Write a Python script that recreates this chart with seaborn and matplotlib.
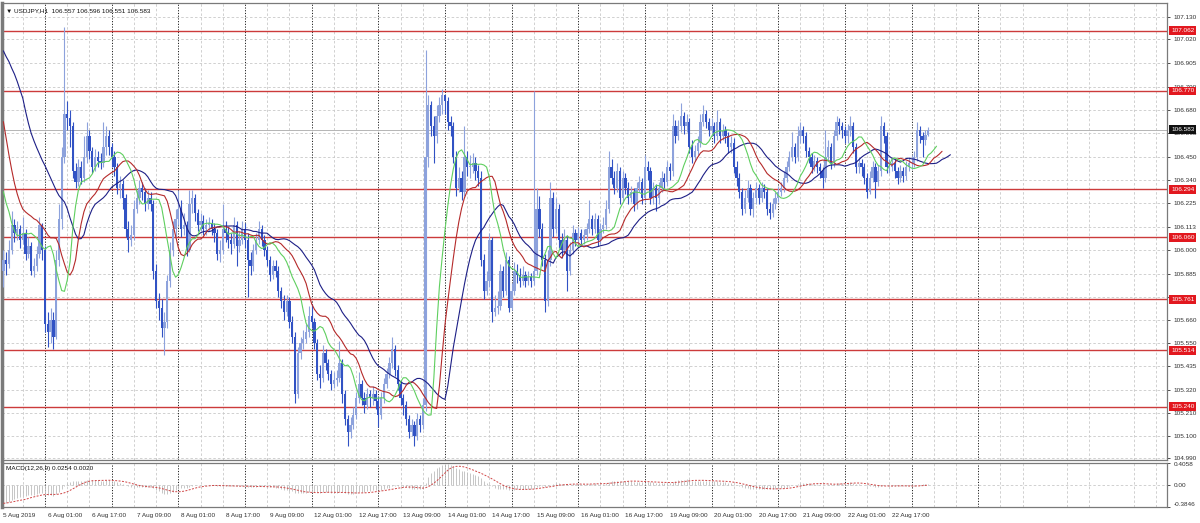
import numpy as np
import pandas as pd
import matplotlib
matplotlib.use("Agg")
import matplotlib.pyplot as plt
import matplotlib.transforms as mtransforms
import seaborn as sns

# ---------------- data ----------------
symbol_title = "\u25bc USDJPY,H1  106.557 106.596 106.551 106.583"
macd_title = "MACD(12,26,9) 0.0254 0.0020"
open_first = 105.90

close = [
    # 5 Aug (from 09:00)
    105.95, 105.93, 106.00, 106.12, 106.08, 106.10, 106.05, 106.08, 105.98, 106.02, 105.90, 105.92, 105.98, 106.12, 106.00,
    # 6 Aug
    105.64, 105.60, 105.66, 105.58, 105.95, 106.15, 106.45, 106.66, 106.64, 106.60, 106.38, 106.33, 106.40, 106.35, 106.45, 106.55, 106.48, 106.40, 106.45, 106.43, 106.42, 106.50, 106.55, 106.50,
    # 7 Aug
    106.45, 106.40, 106.30, 106.32, 106.25, 106.10, 106.05, 106.07, 106.20, 106.25, 106.30, 106.28, 106.22, 106.25, 106.22, 105.90, 105.75, 105.72, 105.62, 105.65, 105.85, 106.00, 106.10, 106.15,
    # 8 Aug
    106.20, 106.10, 106.12, 106.00, 106.22, 106.25, 106.18, 106.12, 106.14, 106.10, 106.12, 106.13, 106.10, 106.08, 105.98, 106.00, 106.10, 106.08, 106.05, 106.03, 106.12, 106.02, 106.05, 106.10,
    # 9 Aug
    106.05, 105.95, 105.92, 106.00, 106.05, 106.10, 106.05, 106.00, 105.95, 105.88, 105.92, 105.90, 105.80, 105.75, 105.70, 105.75, 105.65, 105.58, 105.30, 105.50, 105.55, 105.57, 105.60, 105.68,
    # 12 Aug
    105.65, 105.55, 105.40, 105.38, 105.50, 105.45, 105.40, 105.35, 105.37, 105.38, 105.45, 105.30, 105.18, 105.12, 105.15, 105.20, 105.28, 105.35, 105.28, 105.25, 105.30, 105.28, 105.30, 105.27,
    # 13 Aug
    105.20, 105.28, 105.35, 105.40, 105.45, 105.52, 105.42, 105.35, 105.28, 105.25, 105.18, 105.12, 105.15, 105.10, 105.18, 105.15, 105.25, 106.45, 106.70, 106.60, 106.55, 106.65, 106.70, 106.75,
    # 14 Aug
    106.72, 106.62, 106.60, 106.45, 106.30, 106.35, 106.28, 106.45, 106.40, 106.40, 106.42, 106.38, 106.35, 105.95, 105.80, 105.85, 106.05, 105.70, 105.72, 105.73, 105.90, 105.80, 105.95, 105.72,
    # 15 Aug
    105.80, 105.90, 105.88, 105.85, 105.88, 105.85, 105.87, 105.85, 105.90, 106.20, 106.10, 105.95, 105.75, 105.95, 106.25, 106.10, 106.20, 106.05, 106.00, 106.05, 105.90, 106.00, 106.08, 106.05,
    # 16 Aug
    106.08, 106.05, 106.07, 106.10, 106.15, 106.10, 106.15, 106.05, 106.10, 106.12, 106.20, 106.40, 106.35, 106.30, 106.38, 106.25, 106.35, 106.30, 106.25, 106.28, 106.22, 106.30, 106.33, 106.25,
    # 19 Aug
    106.40, 106.38, 106.25, 106.30, 106.25, 106.30, 106.35, 106.33, 106.40, 106.38, 106.60, 106.55, 106.60, 106.65, 106.60, 106.62, 106.50, 106.45, 106.48, 106.52, 106.62, 106.66, 106.62, 106.58,
    # 20 Aug
    106.60, 106.55, 106.62, 106.55, 106.58, 106.55, 106.50, 106.52, 106.40, 106.35, 106.28, 106.20, 106.25, 106.30, 106.20, 106.25, 106.30, 106.25, 106.30, 106.28, 106.20, 106.18, 106.22, 106.25,
    # 21 Aug
    106.28, 106.30, 106.35, 106.40, 106.45, 106.50, 106.45, 106.55, 106.58, 106.55, 106.48, 106.45, 106.40, 106.43, 106.40, 106.38, 106.35, 106.45, 106.50, 106.42, 106.55, 106.62, 106.60, 106.58,
    # 22 Aug
    106.55, 106.58, 106.60, 106.50, 106.40, 106.42, 106.40, 106.35, 106.28, 106.35, 106.40, 106.33, 106.38, 106.60, 106.55, 106.40, 106.40, 106.42, 106.38, 106.35, 106.38, 106.36, 106.40, 106.42,
    # 23 Aug
    106.42, 106.45, 106.58, 106.55, 106.53, 106.557, 106.583,
]

high = [
    106.00, 105.99, 106.05, 106.19, 106.15, 106.14, 106.12, 106.16, 106.10, 106.06, 106.04, 105.96, 106.02, 106.16, 106.13,
    106.02, 105.70, 105.72, 105.70, 106.00, 106.22, 106.50, 107.08, 106.72, 106.68, 106.62, 106.42, 106.44, 106.43, 106.55, 106.62, 106.58, 106.50, 106.49, 106.48, 106.47, 106.62, 106.60, 106.58,
    106.52, 106.48, 106.42, 106.36, 106.34, 106.27, 106.14, 106.12, 106.24, 106.29, 106.34, 106.33, 106.30, 106.29, 106.28, 106.24, 105.93, 105.79, 105.76, 105.70, 105.88, 106.04, 106.14, 106.20,
    106.29, 106.24, 106.18, 106.14, 106.29, 106.29, 106.27, 106.20, 106.18, 106.17, 106.15, 106.16, 106.15, 106.13, 106.10, 106.05, 106.22, 106.14, 106.11, 106.08, 106.16, 106.14, 106.09, 106.14,
    106.13, 106.08, 105.99, 106.03, 106.08, 106.14, 106.12, 106.07, 106.02, 105.97, 105.95, 105.95, 105.92, 105.82, 105.78, 105.78, 105.77, 105.68, 105.60, 105.53, 105.58, 105.61, 105.64, 105.73,
    105.74, 105.67, 105.57, 105.44, 105.54, 105.52, 105.47, 105.42, 105.41, 105.42, 105.56, 105.47, 105.32, 105.20, 105.19, 105.24, 105.31, 105.41, 105.37, 105.31, 105.33, 105.32, 105.34, 105.32,
    105.29, 105.31, 105.38, 105.43, 105.48, 105.58, 105.54, 105.44, 105.37, 105.30, 105.27, 105.20, 105.18, 105.17, 105.21, 105.20, 105.28, 106.97, 106.75, 106.72, 106.65, 106.70, 106.74, 106.78,
    106.75, 106.74, 106.65, 106.62, 106.48, 106.40, 106.38, 106.60, 106.48, 106.46, 106.47, 106.45, 106.41, 106.38, 105.98, 105.90, 106.08, 106.06, 105.78, 105.80, 105.93, 105.92, 105.99, 105.97,
    105.84, 105.94, 105.93, 105.91, 105.92, 105.90, 105.90, 105.89, 106.77, 106.30, 106.26, 106.13, 105.98, 106.00, 106.33, 106.28, 106.25, 106.22, 106.08, 106.10, 106.07, 106.04, 106.12, 106.10,
    106.11, 106.10, 106.10, 106.13, 106.24, 106.17, 106.18, 106.17, 106.13, 106.16, 106.24, 106.48, 106.44, 106.38, 106.42, 106.40, 106.38, 106.37, 106.33, 106.31, 106.30, 106.33, 106.36, 106.35,
    106.46, 106.43, 106.40, 106.33, 106.32, 106.33, 106.38, 106.37, 106.43, 106.42, 106.66, 106.63, 106.63, 106.71, 106.67, 106.66, 106.64, 106.53, 106.51, 106.55, 106.66, 106.70, 106.68, 106.64,
    106.64, 106.62, 106.68, 106.64, 106.61, 106.60, 106.57, 106.55, 106.54, 106.43, 106.37, 106.30, 106.29, 106.34, 106.32, 106.28, 106.33, 106.32, 106.33, 106.32, 106.30, 106.23, 106.25, 106.28,
    106.31, 106.33, 106.38, 106.43, 106.48, 106.57, 106.52, 106.60, 106.62, 106.60, 106.57, 106.50, 106.47, 106.46, 106.45, 106.42, 106.40, 106.58, 106.53, 106.52, 106.58, 106.65, 106.64, 106.62,
    106.60, 106.61, 106.65, 106.62, 106.52, 106.45, 106.44, 106.42, 106.37, 106.38, 106.43, 106.42, 106.41, 106.65, 106.62, 106.57, 106.44, 106.45, 106.44, 106.40, 106.41, 106.40, 106.43, 106.45,
    106.46, 106.48, 106.62, 106.60, 106.57, 106.58, 106.596,
]

low = [
    105.82, 105.88, 105.91, 105.98, 106.04, 106.05, 106.01, 106.03, 105.95, 105.96, 105.88, 105.87, 105.90, 105.96, 105.95,
    105.60, 105.53, 105.55, 105.52, 105.57, 105.92, 106.10, 106.42, 106.58, 106.50, 106.35, 106.30, 106.31, 106.32, 106.33, 106.42, 106.44, 106.37, 106.38, 106.40, 106.39, 106.40, 106.46, 106.46,
    106.40, 106.36, 106.27, 106.25, 106.20, 106.06, 105.99, 106.02, 106.05, 106.18, 106.22, 106.24, 106.19, 106.20, 106.19, 105.86, 105.72, 105.66, 105.58, 105.49, 105.62, 105.82, 105.97, 106.06,
    106.12, 106.06, 106.07, 105.97, 105.99, 106.18, 106.14, 106.09, 106.09, 106.07, 106.07, 106.09, 106.07, 106.04, 105.95, 105.94, 105.98, 106.04, 106.01, 105.98, 106.01, 105.92, 105.99, 106.03,
    106.01, 105.77, 105.88, 105.90, 105.98, 106.03, 106.02, 105.97, 105.92, 105.85, 105.86, 105.87, 105.77, 105.72, 105.66, 105.68, 105.62, 105.55, 105.26, 105.28, 105.47, 105.52, 105.55, 105.58,
    105.62, 105.52, 105.37, 105.33, 105.36, 105.42, 105.37, 105.32, 105.33, 105.34, 105.36, 105.26, 105.15, 105.05, 105.09, 105.13, 105.18, 105.26, 105.25, 105.21, 105.23, 105.24, 105.25, 105.23,
    105.14, 105.18, 105.26, 105.33, 105.38, 105.43, 105.39, 105.32, 105.25, 105.20, 105.15, 105.09, 105.10, 105.05, 105.08, 105.12, 105.13, 105.22, 106.40, 106.55, 106.42, 106.52, 106.62, 106.66,
    106.66, 106.58, 106.55, 106.42, 106.26, 106.28, 106.24, 106.26, 106.36, 106.35, 106.37, 106.34, 106.31, 105.92, 105.76, 105.78, 105.82, 105.65, 105.68, 105.69, 105.71, 105.77, 105.78, 105.70,
    105.71, 105.78, 105.84, 105.82, 105.83, 105.82, 105.83, 105.82, 105.83, 105.88, 106.06, 105.92, 105.70, 105.73, 105.92, 106.06, 106.08, 106.01, 105.96, 105.98, 105.80, 105.88, 105.98, 106.02,
    106.03, 106.02, 106.03, 106.05, 106.08, 106.07, 106.08, 106.02, 106.03, 106.08, 106.10, 106.18, 106.32, 106.27, 106.28, 106.22, 106.23, 106.27, 106.22, 106.23, 106.19, 106.20, 106.28, 106.22,
    106.23, 106.34, 106.22, 106.22, 106.19, 106.22, 106.28, 106.30, 106.31, 106.34, 106.36, 106.52, 106.53, 106.57, 106.56, 106.57, 106.47, 106.42, 106.43, 106.46, 106.50, 106.60, 106.59, 106.55,
    106.55, 106.52, 106.53, 106.52, 106.53, 106.52, 106.47, 106.47, 106.37, 106.31, 106.25, 106.17, 106.18, 106.23, 106.17, 106.16, 106.22, 106.22, 106.23, 106.25, 106.17, 106.15, 106.16, 106.20,
    106.23, 106.26, 106.28, 106.33, 106.38, 106.43, 106.42, 106.43, 106.52, 106.52, 106.45, 106.42, 106.37, 106.38, 106.37, 106.35, 106.30, 106.33, 106.43, 106.39, 106.40, 106.53, 106.56, 106.54,
    106.52, 106.52, 106.55, 106.47, 106.37, 106.37, 106.36, 106.32, 106.25, 106.27, 106.33, 106.25, 106.31, 106.36, 106.52, 106.37, 106.37, 106.38, 106.35, 106.32, 106.33, 106.33, 106.34, 106.38,
    106.39, 106.40, 106.43, 106.52, 106.45, 106.51, 106.551,
]

# Alligator lines before the first visible bar (read from the left edge)
jaw_lead = [106.964, 106.936, 106.912, 106.880, 106.851, 106.815, 106.775, 106.734]
teeth_lead = [106.621, 106.540, 106.460, 106.387, 106.322]
lips_lead = [106.282, 106.226, 106.185]
ema12_seed = 106.12
ema26_seed = 106.45

levels = [107.062, 106.770, 106.294, 106.060, 105.761, 105.514, 105.240]
last_price = 106.583
price_ticks = [107.130, 107.020, 106.905, 106.790, 106.680, 106.565, 106.450, 106.340,
               106.225, 106.113, 106.000, 105.885, 105.770, 105.660, 105.550, 105.435,
               105.320, 105.210, 105.100, 104.990]
macd_ticks = [0.4058, 0.0, -0.3846]
macd_tick_labels = ["0.4058", "0.00", "-0.3846"]

time_label_pos = [0, 16, 32, 48, 64, 80, 96, 112, 128, 144, 160, 176, 192, 208, 224, 240, 256, 272, 288, 304, 320]
time_labels = ["5 Aug 2019", "6 Aug 01:00", "6 Aug 17:00", "7 Aug 09:00", "8 Aug 01:00", "8 Aug 17:00",
               "9 Aug 09:00", "12 Aug 01:00", "12 Aug 17:00", "13 Aug 09:00", "14 Aug 01:00",
               "14 Aug 17:00", "15 Aug 09:00", "16 Aug 01:00", "16 Aug 17:00", "19 Aug 09:00",
               "20 Aug 01:00", "20 Aug 17:00", "21 Aug 09:00", "22 Aug 01:00", "22 Aug 17:00"]
day_starts = [15, 39, 63, 87, 111, 135, 159, 183, 207, 231, 255, 279, 303, 327, 351]

# ---------------- derived series ----------------
c = np.array(close)
o = np.concatenate([[open_first], c[:-1]])
h = np.maximum(np.array(high), np.maximum(o, c))
l = np.minimum(np.array(low), np.minimum(o, c))
n = len(c)
idx = np.arange(n)
median = (h + l) / 2


def smma(vals, period, seed):
    out, s = [], seed
    for v in vals:
        s = s + (v - s) / period
        out.append(s)
    return out


jaw = jaw_lead + smma(median, 13, jaw_lead[-1])
teeth = teeth_lead + smma(median, 8, teeth_lead[-1])
lips = lips_lead + smma(median, 5, lips_lead[-1])


def ema(vals, period, seed):
    a = 2.0 / (period + 1)
    out, s = [], seed
    for v in vals:
        s = s + a * (v - s)
        out.append(s)
    return np.array(out)


macd = ema(c, 12, ema12_seed) - ema(c, 26, ema26_seed)
signal = pd.Series(macd).rolling(9, min_periods=1).mean().values

# ---------------- styling ----------------
sns.set_style("white")
plt.rcParams["font.family"] = ["Liberation Sans", "DejaVu Sans"]
FS = 4.6

W, H = 1200, 523
fig = plt.figure(figsize=(W / 100, H / 100), dpi=100)
fig.patch.set_facecolor("white")

x0, x1 = 2, 1167
ax = fig.add_axes([x0 / W, 1 - 460 / H, (x1 - x0) / W, (460 - 3) / H])
ax2 = fig.add_axes([x0 / W, 1 - 507 / H, (x1 - x0) / W, (507 - 462.5) / H])

xlim = (-0.5, 419)
grid_col = "#c9c9c9"
grid_ls = (0, (3, 2.5))
sep_ls = (0, (1.2, 1.6))

for a in (ax, ax2):
    a.set_xlim(*xlim)
    a.set_facecolor("white")
    for s in a.spines.values():
        s.set_color("#7a7a7a")
        s.set_linewidth(0.9)
    for gi in range(7, 419, 8):
        if (gi - 15) % 24 != 0:
            a.axvline(gi, color=grid_col, lw=0.6, ls=grid_ls, zorder=0.5)
    for d in day_starts:
        a.axvline(d, color="#202020", lw=0.7, ls=sep_ls, zorder=0.6)

ax.spines["left"].set_linewidth(2.5)
ax2.spines["left"].set_linewidth(2.5)
ax.spines["bottom"].set_linewidth(0.9)
ax2.spines["top"].set_linewidth(0.9)

# ---------------- main panel ----------------
ax.set_ylim(104.982, 107.196)
for p in price_ticks:
    ax.axhline(p, color=grid_col, lw=0.6, ls=grid_ls, zorder=0.5)

for lv in levels:
    ax.axhline(lv, color="#cc3b3b", lw=1.0, zorder=2)
ax.axhline(last_price, color="#b5b5b5", lw=0.7, zorder=1.5)

bull_col, bear_col = "#8da2dc", "#3152c4"
cols = np.where(c >= o, bull_col, bear_col)
ax.vlines(idx, l, h, colors=cols, lw=0.8, zorder=3)
body = np.maximum(np.abs(c - o), 0.005)
ax.bar(idx, body, bottom=np.minimum(o, c), width=0.82, color=cols, linewidth=0, zorder=3)

sns.lineplot(x=np.arange(len(jaw)), y=jaw, ax=ax, color="#1d1f86", lw=0.8, estimator=None, zorder=4)
sns.lineplot(x=np.arange(len(teeth)), y=teeth, ax=ax, color="#b52a2a", lw=0.8, estimator=None, zorder=4)
sns.lineplot(x=np.arange(len(lips)), y=lips, ax=ax, color="#5fcf5f", lw=0.8, estimator=None, zorder=4)

ax.yaxis.tick_right()
ax.set_yticks(price_ticks)
ax.set_yticklabels([f"{p:.3f}" for p in price_ticks])
ax.tick_params(axis="y", length=2.5, width=0.6, pad=2, labelsize=FS, colors="#303030")
ax.set_xticks([])
ax.set_xlabel("")
ax.set_ylabel("")

tr = mtransforms.blended_transform_factory(ax.transAxes, ax.transData)
for lv in levels:
    ax.text(1.0035, lv, f"{lv:.3f}", transform=tr, color="white", fontsize=FS,
            va="center", ha="left", zorder=10,
            bbox=dict(boxstyle="square,pad=0.3", fc="#e2181f", ec="none"))
ax.text(1.0035, last_price, f"{last_price:.3f}", transform=tr, color="white", fontsize=FS,
        va="center", ha="left", zorder=10,
        bbox=dict(boxstyle="square,pad=0.3", fc="#111111", ec="none"))

ax.text(0.0035, 0.988, symbol_title, transform=ax.transAxes, fontsize=FS,
        va="top", ha="left", color="#111111", family=["Liberation Sans", "DejaVu Sans"])

# ---------------- MACD panel ----------------
ax2.set_ylim(-0.3846, 0.4058)
ax2.axhline(0, color=grid_col, lw=0.6, ls=grid_ls, zorder=0.5)
ax2.vlines(idx, 0, macd, colors="#bdbdbd", lw=0.6, zorder=2)
sns.lineplot(x=idx, y=signal, ax=ax2, color="#d04545", lw=0.7, linestyle=(0, (2, 1.5)),
             estimator=None, zorder=3)
ax2.text(0.0035, 0.93, macd_title, transform=ax2.transAxes, fontsize=FS,
         va="top", ha="left", color="#111111")

ax2.yaxis.tick_right()
ax2.set_yticks(macd_ticks)
ax2.set_yticklabels(macd_tick_labels)
ax2.tick_params(axis="y", length=2.5, width=0.6, pad=2, labelsize=FS, colors="#303030")
ylabs = ax2.get_yticklabels()
ylabs[0].set_va("top")
ylabs[2].set_va("bottom")

ax2.set_xticks(time_label_pos)
ax2.set_xticklabels(time_labels)
ax2.tick_params(axis="x", length=2.5, width=0.6, pad=1.5, labelsize=FS, colors="#303030")
for t in ax2.get_xticklabels():
    t.set_ha("left")
ax2.set_xlabel("")
ax2.set_ylabel("")

fig.savefig("out.png", dpi=100, facecolor="white")
